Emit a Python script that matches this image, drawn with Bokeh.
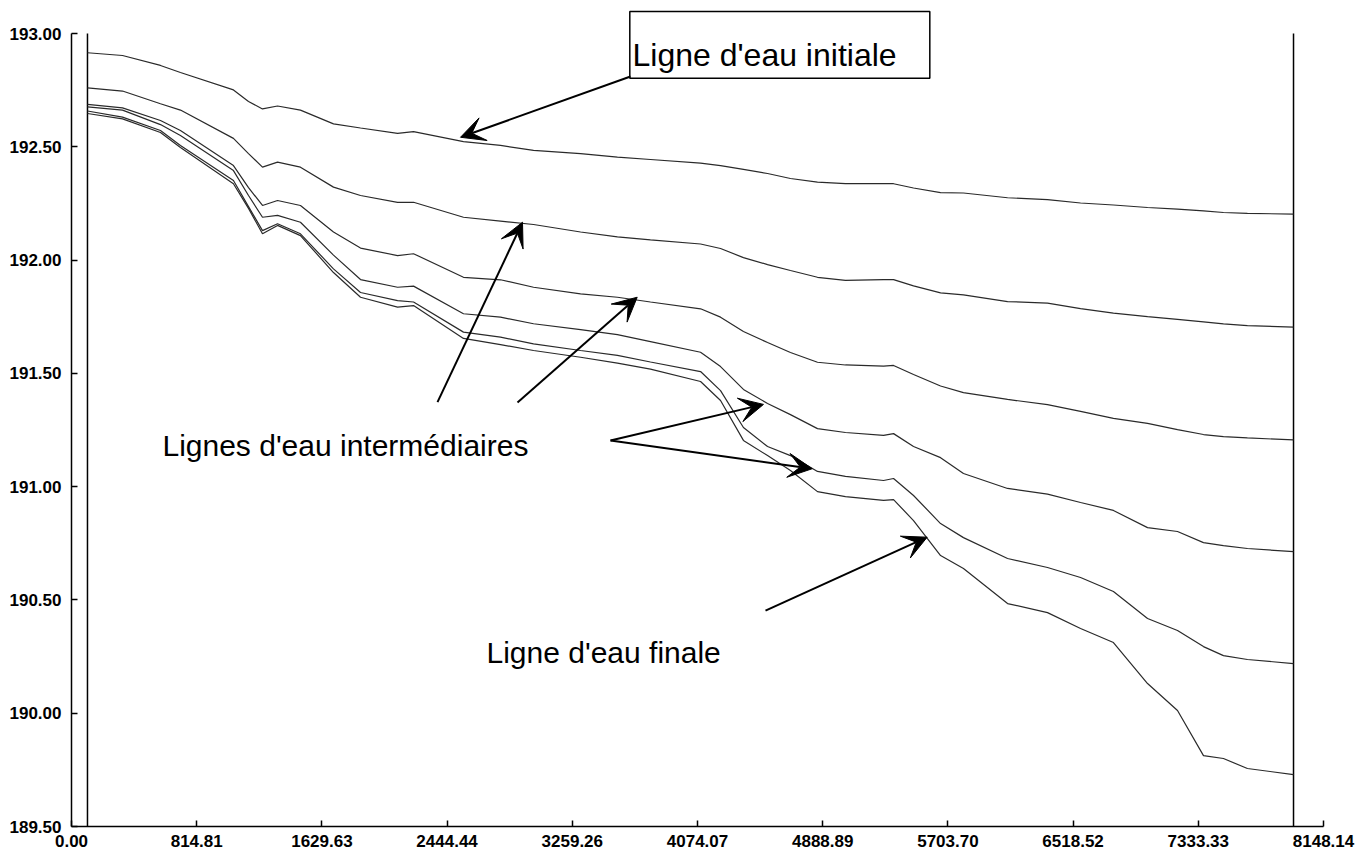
from bokeh.plotting import figure
from bokeh.models import Range1d, FixedTicker, NumeralTickFormatter, Label, Arrow, VeeHead, BoxAnnotation
from bokeh.embed import file_html
from bokeh.resources import INLINE

# ---------------- data ----------------
x_max = 8148.14
y_min = 189.5
y_max = 193.0

x_tick_values = [round(x_max * i / 10, 5) for i in range(11)]
x_tick_labels = ["0.00", "814.81", "1629.63", "2444.44", "3259.26", "4074.07",
                 "4888.89", "5703.70", "6518.52", "7333.33", "8148.14"]
y_tick_values = [189.5, 190.0, 190.5, 191.0, 191.5, 192.0, 192.5, 193.0]

station = [104, 332, 579, 709, 1054, 1152, 1243, 1341, 1490, 1705, 1881, 2122, 2226,
           2551, 2792, 3007, 3313, 3553, 3768, 4094, 4224, 4373, 4530, 4679, 4855,
           5037, 5285, 5350, 5480, 5656, 5805, 6092, 6352, 6567, 6781, 7003, 7198,
           7367, 7497, 7653, 7953]

ligne_initiale = [192.915, 192.903, 192.859, 192.828, 192.751, 192.700, 192.667, 192.680,
                  192.662, 192.601, 192.583, 192.559, 192.567, 192.523, 192.506, 192.484,
                  192.470, 192.454, 192.444, 192.428, 192.417, 192.400, 192.382, 192.360,
                  192.344, 192.337, 192.337, 192.337, 192.318, 192.298, 192.296, 192.275,
                  192.267, 192.252, 192.243, 192.232, 192.225, 192.217, 192.210, 192.206,
                  192.203]

ligne_inter_1 = [192.760, 192.746, 192.690, 192.662, 192.537, 192.470, 192.410, 192.432,
                 192.410, 192.322, 192.285, 192.255, 192.255, 192.189, 192.172, 192.157,
                 192.124, 192.102, 192.089, 192.071, 192.051, 192.011, 191.980, 191.954,
                 191.924, 191.910, 191.914, 191.914, 191.886, 191.855, 191.846, 191.817,
                 191.810, 191.786, 191.766, 191.750, 191.738, 191.727, 191.718, 191.711,
                 191.704]

ligne_inter_2 = [192.687, 192.672, 192.616, 192.572, 192.417, 192.320, 192.241, 192.263,
                 192.241, 192.124, 192.053, 192.020, 192.028, 191.924, 191.913, 191.880,
                 191.851, 191.836, 191.815, 191.785, 191.748, 191.685, 191.636, 191.592,
                 191.549, 191.537, 191.532, 191.535, 191.495, 191.444, 191.415, 191.385,
                 191.362, 191.332, 191.301, 191.279, 191.252, 191.230, 191.221, 191.215,
                 191.206]

ligne_inter_3 = [192.676, 192.662, 192.598, 192.550, 192.395, 192.285, 192.189, 192.197,
                 192.167, 192.022, 191.914, 191.880, 191.885, 191.763, 191.748, 191.719,
                 191.693, 191.671, 191.640, 191.593, 191.530, 191.429, 191.367, 191.318,
                 191.256, 191.239, 191.226, 191.234, 191.177, 191.128, 191.058, 190.992,
                 190.967, 190.930, 190.895, 190.819, 190.802, 190.753, 190.740, 190.727,
                 190.713]

ligne_inter_4 = [192.658, 192.631, 192.572, 192.506, 192.351, 192.236, 192.130, 192.160,
                 192.116, 191.961, 191.857, 191.821, 191.815, 191.682, 191.660, 191.630,
                 191.601, 191.579, 191.550, 191.508, 191.424, 191.261, 191.177, 191.137,
                 191.067, 191.045, 191.027, 191.036, 190.961, 190.837, 190.775, 190.683,
                 190.643, 190.599, 190.537, 190.418, 190.365, 190.294, 190.254, 190.237,
                 190.219]

ligne_finale = [192.647, 192.623, 192.563, 192.497, 192.337, 192.228, 192.116, 192.153,
                192.108, 191.945, 191.836, 191.792, 191.799, 191.654, 191.627, 191.601,
                191.571, 191.545, 191.519, 191.464, 191.380, 191.204, 191.137, 191.071,
                190.978, 190.956, 190.939, 190.943, 190.850, 190.696, 190.639, 190.484,
                190.444, 190.374, 190.312, 190.131, 190.012, 189.813, 189.800, 189.756,
                189.729]

all_lines = [ligne_initiale, ligne_inter_1, ligne_inter_2, ligne_inter_3, ligne_inter_4, ligne_finale]

# ---------------- figure ----------------
y_top = 193.14565  # head-room above the axis for the caption box

p = figure(width=1356, height=854, output_backend="svg", toolbar_location=None,
           x_range=Range1d(0, x_max), y_range=Range1d(y_min, y_top),
           min_border_left=71, min_border_right=33, min_border_top=0, min_border_bottom=28)
p.title.visible = False
p.background_fill_color = "white"
p.border_fill_color = "white"
p.outline_line_color = None
p.xgrid.visible = False
p.ygrid.visible = False

for ax in (p.xaxis[0], p.yaxis[0]):
    ax.axis_line_color = "black"
    ax.axis_line_width = 1.5
    ax.major_tick_line_color = "black"
    ax.major_tick_line_width = 1.5
    ax.major_tick_in = 6
    ax.major_tick_out = 0
    ax.minor_tick_line_color = None
    ax.major_label_text_font = "Liberation Sans"
    ax.major_label_text_font_style = "bold"
    ax.major_label_text_font_size = "17px"
    ax.major_label_text_color = "black"

p.xaxis.ticker = FixedTicker(ticks=x_tick_values)
p.xaxis.formatter = NumeralTickFormatter(format="0.00")
p.xaxis.major_label_overrides = {v: s for v, s in zip(x_tick_values, x_tick_labels)}
p.xaxis.bounds = (0, x_max)
p.xaxis.major_label_standoff = 8

p.yaxis.ticker = FixedTicker(ticks=y_tick_values)
p.yaxis.formatter = NumeralTickFormatter(format="0.00")
p.yaxis.bounds = (y_min, y_max)
p.yaxis.major_label_standoff = 10

# section limits
p.segment(x0=[station[0], station[-1]], y0=[y_min, y_min],
          x1=[station[0], station[-1]], y1=[y_max, y_max],
          line_color="black", line_width=1.5)

for ys in all_lines:
    p.line(station, ys, line_color="#2a2a2a", line_width=1.2)

# ---------------- annotations ----------------
p.add_layout(BoxAnnotation(left=3633.5, right=5586.0, bottom=192.803, top=193.097,
                           fill_color="white", fill_alpha=1.0,
                           line_color="black", line_alpha=1.0, line_width=1.5))

def lab(x, y, text, size):
    p.add_layout(Label(x=x, y=y, text=text, text_font="Liberation Sans",
                       text_font_size=size, text_color="black",
                       text_align="left", text_baseline="alphabetic"))

lab(3651.0, 192.903, "Ligne d'eau initiale", "32px")
lab(592.0, 191.182, "Lignes d'eau intermédiaires", "30px")
lab(2701.0, 190.268, "Ligne d'eau finale", "30px")

arrows = [
    (3638.0, 192.810, 2531.7, 192.542),
    (2382.0, 191.373, 2935.2, 192.167),
    (2902.6, 191.371, 3681.6, 191.836),
    (3507.9, 191.204, 4503.6, 191.363),
    (3507.9, 191.204, 4820.5, 191.079),
    (4516.6, 190.453, 5569.0, 190.777),
]
for x0, y0, x1, y1 in arrows:
    p.add_layout(Arrow(end=VeeHead(size=24, fill_color="black", line_color="black", line_width=1),
                       x_start=x0, y_start=y0, x_end=x1, y_end=y1,
                       line_color="black", line_width=2))

open("out.html", "w").write(file_html(p, INLINE))
